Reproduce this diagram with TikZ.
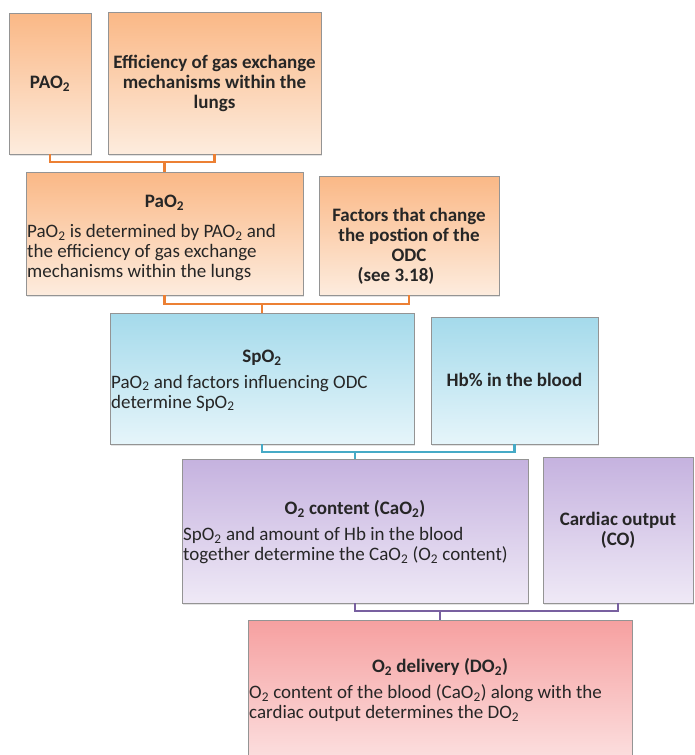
\documentclass[tikz,border=0pt]{standalone}
\usepackage{fontspec}
\setmainfont{Carlito}
\usetikzlibrary{positioning,shadows}
\newcommand{\Otwo}{O\textsubscript{2}}

\begin{document}
\begin{tikzpicture}[x=1pt, y=-1pt, font=\fontsize{19}{20}\selectfont,
  box/.style={draw=black!42, line width=0.6pt, inner sep=0pt,
    drop shadow={shadow xshift=1pt, shadow yshift=-1.5pt, opacity=0.22}},
  obox/.style={box, top color=boxOtop, bottom color=boxObot},
  cbox/.style={box, top color=boxCtop, bottom color=boxCbot},
  pbox/.style={box, top color=boxPtop, bottom color=boxPbot},
  rbox/.style={box, top color=boxRtop, bottom color=boxRbot},
  head/.style={font=\fontsize{19}{20}\selectfont\bfseries, inner sep=0pt, align=center, text=black!85},
  body/.style={inner sep=0pt, align=left, anchor=west, text=black!85},
  link/.style={line width=2.2pt},
  olink/.style={link, draw=linkO},
  clink/.style={link, draw=linkC},
  plink/.style={link, draw=linkP}]
\definecolor{boxOtop}{RGB}{250,184,134}\definecolor{boxObot}{RGB}{253,236,222}
\definecolor{boxCtop}{RGB}{164,218,235}\definecolor{boxCbot}{RGB}{230,245,250}
\definecolor{boxPtop}{RGB}{197,178,223}\definecolor{boxPbot}{RGB}{239,233,246}
\definecolor{boxRtop}{RGB}{246,160,160}\definecolor{boxRbot}{RGB}{252,228,228}
\definecolor{linkO}{RGB}{236,128,52}\definecolor{linkC}{RGB}{70,170,198}\definecolor{linkP}{RGB}{120,96,160}
\useasboundingbox (0,0) rectangle (694,755);
\clip (0,0) rectangle (694,755);
% ---- row 1: alveolar side
\node[obox, minimum width=82pt, minimum height=141pt] (palv) at (50,83.5) {};
\node[obox, minimum width=213pt, minimum height=142pt] (eff) at (214.5,83) {};
\node[head] (palvT) at (50,84) {PA\Otwo};
\node[head] (effT) at (214.5,83) {Efficiency of gas exchange\\mechanisms within the\\lungs};
% ---- row 2: arterial PaO2 and ODC
\node[obox, minimum width=277pt, minimum height=123pt] (part) at (164.5,233.5) {};
\node[obox, minimum width=180pt, minimum height=119pt] (odc) at (409,235.5) {};
\node[head] (partT) at (164.5,203) {Pa\Otwo};
\node[body] (partB) at (27,253) {Pa\Otwo{} is determined by PA\Otwo{} and\\the efficiency of gas exchange\\mechanisms within the lungs};
\node[head] (odcT) at (409,246) {Factors that change\\the postion of the\\ODC\hspace*{30pt}\\(see 3.18)\hspace*{26pt}};
% ---- row 3: saturation
\node[cbox, minimum width=304pt, minimum height=131pt] (spo) at (262,378.5) {};
\node[cbox, minimum width=167pt, minimum height=127pt] (hb) at (514.5,380.5) {};
\node[head] (spoT) at (262,358) {Sp\Otwo};
\node[body] (spoB) at (111,393) {Pa\Otwo{} and factors influencing ODC\\determine Sp\Otwo};
\node[head] (hbT) at (514.5,380) {Hb\% in the blood};
% ---- row 4: content
\node[pbox, minimum width=346pt, minimum height=144pt] (cao) at (355,531) {};
\node[pbox, minimum width=150pt, minimum height=146pt] (co) at (618,530) {};
\node[head] (caoT) at (355,509) {\Otwo{} content (Ca\Otwo{})};
\node[body] (caoB) at (183,546) {Sp\Otwo{} and amount of Hb in the blood\\together determine the Ca\Otwo{} (\Otwo{} content)};
\node[head] (coT) at (618,530) {Cardiac output\\(CO)};
% ---- row 5: delivery
\node[rbox, minimum width=384pt, minimum height=150pt] (dlv) at (440,695) {};
\node[head] (dlvT) at (440,667) {\Otwo{} delivery (D\Otwo{})};
\node[body] (dlvB) at (249,703.5) {\Otwo{} content of the blood (Ca\Otwo{}) along with the\\cardiac output determines the D\Otwo};
% ---- joins
\coordinate[yshift=10pt] (j1) at (part.north);
\draw[olink] (palv.south) |- (j1) -| (eff.south);
\draw[olink] (j1) -- (part.north);
\coordinate[yshift=9pt] (j2) at (spo.north);
\draw[olink] (part.south) |- (j2) -| (odc.south);
\draw[olink] (j2) -- (spo.north);
\coordinate[yshift=7pt] (j3) at (cao.north);
\draw[clink] (spo.south) |- (j3) -| (hb.south);
\draw[clink] (j3) -- (cao.north);
\coordinate[yshift=9pt] (j4) at (dlv.north);
\draw[plink] (cao.south) |- (j4) -| (co.south);
\draw[plink] (j4) -- (dlv.north);
\end{tikzpicture}
\end{document}
